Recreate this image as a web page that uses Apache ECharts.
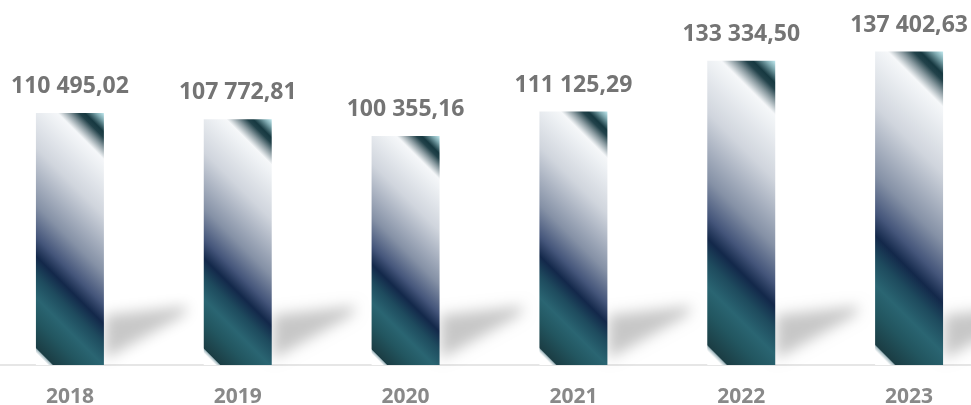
<!DOCTYPE html>
<html><head><meta charset="utf-8">
<script src="https://cdn.jsdelivr.net/npm/echarts@6/dist/echarts.min.js"></script>
<style>html,body{margin:0;padding:0;background:#fff}#c{width:971px;height:405px}</style>
</head><body><div id="c"></div>
<script>
const categories = ['2018', '2019', '2020', '2021', '2022', '2023'];
const values = [110495.02, 107772.81, 100355.16, 111125.29, 133334.50, 137402.63];

function fmt(v) {
  const parts = v.toFixed(2).split('.');
  return parts[0].replace(/\B(?=(\d{3})+(?!\d))/g, ' ') + ',' + parts[1];
}

const stops = [
  {offset: 0, color: '#c2eaf0'},
  {offset: 0.025, color: '#7fa9b0'},
  {offset: 0.06, color: '#163840'},
  {offset: 0.078, color: '#22424a'},
  {offset: 0.11, color: '#8c9ca2'},
  {offset: 0.145, color: '#f5f7f9'},
  {offset: 0.18, color: '#eef1f4'},
  {offset: 0.32, color: '#d0d5dd'},
  {offset: 0.5, color: '#8591a6'},
  {offset: 0.6, color: '#44557a'},
  {offset: 0.66, color: '#13284a'},
  {offset: 0.72, color: '#1e4b5e'},
  {offset: 0.79, color: '#2a6572'},
  {offset: 0.86, color: '#225660'},
  {offset: 0.945, color: '#1b3d44'},
  {offset: 0.95, color: '#a9bec4'},
  {offset: 0.962, color: '#ffffff'},
  {offset: 1, color: '#ffffff'}
];

const chart = echarts.init(document.getElementById('c'), null, {renderer: 'canvas'});
chart.setOption({
  animation: false,
  backgroundColor: '#ffffff',
  grid: {left: -14, right: -22, top: 0, bottom: 40, outerBoundsMode: 'none', containLabel: false},
  xAxis: {
    type: 'category',
    data: categories,
    axisLine: {lineStyle: {color: '#e6e6e6', width: 2}},
    axisTick: {show: false},
    axisLabel: {color: '#898989', fontFamily: 'Open Sans', fontWeight: 'bold', fontSize: 21, margin: 22}
  },
  yAxis: {type: 'value', min: 0, max: 160000, show: false, splitLine: {show: false}},
  series: [{
    type: 'custom',
    clip: false,
    data: values.map((v, i) => [i, v]),
    encode: {x: 0, y: 1},
    renderItem: function (params, api) {
      const base = api.coord([api.value(0), 0]);
      const top = api.coord([api.value(0), api.value(1)]);
      const band = api.size([1, 0])[0];
      const w = band * 0.405;
      const h = base[1] - top[1];
      const L = base[0] - w / 2, R = base[0] + w / 2, B = base[1];
      const D = w + h;
      const grad = new echarts.graphic.LinearGradient(1, 0, 1 - D / (2 * w), D / (2 * h), stops);
      const off = 3000;
      return {
        type: 'group',
        children: [
          {
            type: 'polygon',
            shape: {points: [[R + 1, B - 6 + off], [R + 1, B - 50 + off], [R + 84, B - 59 + off], [R + 80, B - 50 + off]]},
            style: {fill: '#000', shadowColor: 'rgba(0,0,0,0.22)', shadowBlur: 14, shadowOffsetY: -off}
          },
          {
            type: 'rect',
            shape: {x: L, y: top[1], width: w, height: h},
            style: {fill: grad}
          },
          {
            type: 'text',
            style: {
              x: base[0], y: top[1] - 15, text: fmt(api.value(1)),
              align: 'center', verticalAlign: 'bottom',
              fill: '#747474', font: 'bold 23px "Open Sans"'
            }
          }
        ]
      };
    }
  }]
});
</script></body></html>
